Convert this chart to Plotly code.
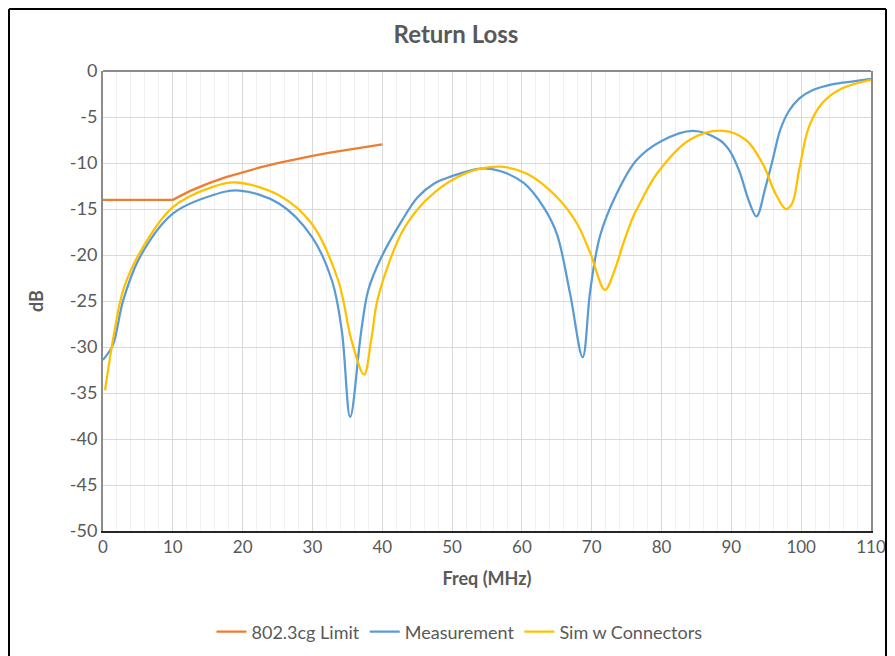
import plotly.graph_objects as go

# ---- data ----
limit_f = [0, 10, 12.5, 15, 17.5, 20, 22.5, 25, 27.5, 30, 32.5, 35, 37.5, 40]
limit_db = [-14, -14, -13.03, -12.24, -11.57, -10.99, -10.48, -10.02, -9.61, -9.23,
            -8.88, -8.56, -8.26, -7.98]

meas_f = [0, 1.4, 2.9, 5.3, 10.0, 15.7, 19.5, 25.2, 29.9, 32.8, 34.2, 35.4, 37.0, 38.0,
          39.9, 42.7, 45.1, 47.5, 49.9, 54.1, 57.0, 60.3, 63.1, 65.0, 66.9, 68.7, 69.8,
          71.2, 73.6, 76.4, 80.0, 84.5, 88.3, 89.7, 91.1, 92.5, 93.6, 94.9, 95.9, 97.0,
          98.2, 99.7, 101.6, 104.4, 107.7, 110]
meas_db = [-31.4, -29.8, -24.9, -20.2, -15.5, -13.5, -13.0, -14.4, -18.0, -22.8, -28.2,
           -37.6, -28.2, -23.8, -20.2, -16.4, -13.7, -12.2, -11.45, -10.6, -10.9, -12.2,
           -14.8, -17.7, -24.2, -31.1, -23.8, -17.9, -13.3, -9.7, -7.6, -6.5, -7.5, -8.6,
           -10.8, -14.1, -15.8, -12.6, -9.7, -6.4, -4.4, -3.0, -2.1, -1.45, -1.1, -0.85]

sim_f = [0.3, 1.5, 2.9, 5.3, 10.0, 15.7, 18.9, 25.2, 29.9, 33.7, 35.6, 37.4, 38.4, 39.4,
         42.7, 45.1, 47.5, 49.9, 53.6, 57.0, 60.8, 65.0, 67.9, 69.8, 71.9, 73.3, 74.5,
         75.9, 76.9, 79.3, 84.0, 88.8, 92.1, 94.5, 96.3, 97.8, 98.7, 99.7, 101.1, 103.0,
         105.8, 110]
sim_db = [-34.7, -28.9, -23.8, -19.7, -14.8, -12.6, -12.1, -13.5, -16.6, -22.8, -29.3,
          -33.0, -29.3, -24.6, -17.7, -15.0, -13.2, -11.9, -10.7, -10.4, -11.2, -13.7,
          -16.6, -19.8, -23.8, -21.6, -18.8, -15.9, -14.4, -11.2, -7.5, -6.5, -7.5, -10.1,
          -13.3, -15.0, -14.4, -10.8, -6.1, -3.5, -1.9, -0.95]

x_ticks = list(range(0, 111, 10))
x_labels = [str(v) for v in x_ticks]
y_ticks = list(range(-50, 1, 5))
y_labels = [str(v) for v in y_ticks]

FONT = "Lato"
GRAY = "#595959"

# the page shows the figure with an 8px body offset; size it to fit the window
W, H = 879, 648
L, R, T, B = 95, 16, 63, 125
PW, PH = W - L - R, H - T - B

fig = go.Figure()
fig.add_trace(go.Scatter(x=limit_f, y=limit_db, name="802.3cg Limit", mode="lines",
                         line=dict(color="#ED7D31", width=2.25, shape="linear")))
fig.add_trace(go.Scatter(x=meas_f, y=meas_db, name="Measurement", mode="lines",
                         line=dict(color="#5B9BD5", width=2.25, shape="spline", smoothing=1.0)))
fig.add_trace(go.Scatter(x=sim_f, y=sim_db, name="Sim w Connectors", mode="lines",
                         line=dict(color="#FFC000", width=2.25, shape="spline", smoothing=1.0)))

fig.update_layout(
    width=W, height=H,
    margin=dict(l=L, r=R, t=T, b=B),
    paper_bgcolor="white", plot_bgcolor="white",
    font=dict(family=FONT, color=GRAY, size=18),
    title=dict(text="<b>Return Loss</b>", x=448 / W, xref="container", xanchor="center",
               y=1 - 27 / H, yref="container", yanchor="middle",
               font=dict(family=FONT, size=24, color=GRAY)),
    xaxis=dict(range=[0, 110], tickvals=x_ticks, ticktext=x_labels, showgrid=True,
               gridcolor="#d9d9d9", gridwidth=1, zeroline=False, showline=True,
               linecolor="#262626", linewidth=1.5, ticks="", automargin=False,
               ticklabeloverflow="allow",
               tickfont=dict(size=17, color=GRAY),
               minor=dict(dtick=2, showgrid=True, gridcolor="#f0f0f0", gridwidth=1),
               title=dict(text="<b>Freq (MHz)</b>", font=dict(size=18, color=GRAY), standoff=16)),
    yaxis=dict(range=[-50, 0], tickvals=y_ticks, ticktext=y_labels, showgrid=True,
               gridcolor="#d9d9d9", gridwidth=1, zeroline=False, showline=True,
               linecolor="#8c8c8c", linewidth=2, mirror=True, ticks="", automargin=False,
               tickfont=dict(size=18, color=GRAY),
               title=dict(text="<b>dB</b>", font=dict(size=18, color=GRAY), standoff=22)),
    legend=dict(orientation="h", x=451.5 / W, xref="container", xanchor="center",
                y=1 - 624 / H, yref="container", yanchor="middle",
                font=dict(size=18, color=GRAY), itemwidth=30, traceorder="normal"),
    showlegend=True,
)

# top edge of plot area (gray)
fig.add_shape(type="line", xref="paper", yref="paper", x0=0, x1=1, y0=1, y1=1,
              line=dict(color="#8c8c8c", width=2))
# outer chart border: left, top, right edges
bx0, bx1 = (1 - L) / PW, (W - 1 - L) / PW
by_top, by_bot = (PH + T - 1) / PH, (PH + T - (H + 20)) / PH
for sx0, sy0, sx1, sy1 in [(bx0, by_bot, bx0, by_top), (bx0, by_top, bx1, by_top),
                           (bx1, by_top, bx1, by_bot)]:
    fig.add_shape(type="line", xref="paper", yref="paper", x0=sx0, y0=sy0, x1=sx1, y1=sy1,
                  line=dict(color="black", width=2), layer="above")

fig.write_html("out.html")
